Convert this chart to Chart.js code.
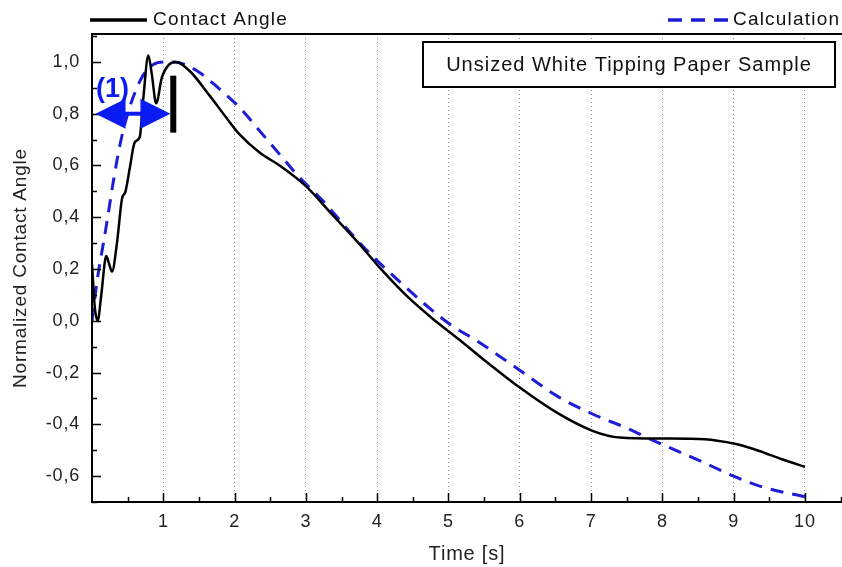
<!DOCTYPE html>
<html>
<head>
<meta charset="utf-8">
<script src="https://cdn.jsdelivr.net/npm/chart.js@4/dist/chart.umd.min.js"></script>
<style>
  html, body { margin: 0; padding: 0; background: #fff; }
  #wrap { width: 842px; height: 567px; }
</style>
</head>
<body>
<div id="wrap"><canvas id="angleChart" width="842" height="567"></canvas></div>
<script>
// measured contact angle (normalized) over time
const contactTime = [0.00, 0.02, 0.04, 0.08, 0.13, 0.20, 0.24, 0.28, 0.35, 0.42, 0.47, 0.53, 0.60, 0.67,
    0.72, 0.79, 0.84, 0.90, 0.98, 1.08, 1.18, 1.37, 1.65, 1.88, 2.07, 2.35, 2.63, 3.00, 3.37, 3.74,
    4.02, 4.40, 4.77, 5.14, 5.54, 6.01, 6.52, 7.02, 7.40, 8.02, 8.40, 8.75, 9.05, 9.35, 9.68, 10.00];
const contactAngle = [0.22, 0.13, 0.05, 0.00, 0.10, 0.25, 0.22, 0.19, 0.30, 0.47, 0.50, 0.59, 0.69, 0.71,
    0.86, 1.025, 0.95, 0.84, 0.94, 0.99, 1.00, 0.965, 0.87, 0.786, 0.72, 0.65, 0.60, 0.52, 0.41, 0.30,
    0.21, 0.10, 0.01, -0.07, -0.16, -0.26, -0.355, -0.425, -0.451, -0.455, -0.456, -0.462, -0.477, -0.502, -0.535, -0.564];

// model curve
const calcTime = [0.00, 0.08, 0.16, 0.22, 0.30, 0.40, 0.50, 0.60, 0.72, 0.86, 1.00, 1.15, 1.47, 1.79,
    2.07, 2.35, 2.63, 2.91, 3.28, 3.60, 3.93, 4.30, 4.67, 5.02, 5.44, 6.01, 6.52, 7.02, 7.55, 7.83,
    8.53, 9.00, 9.43, 10.00];
const calcAngle = [0.00, 0.17, 0.30, 0.40, 0.54, 0.69, 0.80, 0.88, 0.95, 0.99, 1.00, 1.00, 0.966, 0.895,
    0.824, 0.734, 0.644, 0.554, 0.451, 0.348, 0.251, 0.155, 0.064, -0.013, -0.085, -0.193, -0.29, -0.36,
    -0.42, -0.457, -0.541, -0.60, -0.644, -0.68];

const xTicks = [1, 2, 3, 4, 5, 6, 7, 8, 9, 10];
const xMinorTicks = [0.5, 1.5, 2.5, 3.5, 4.5, 5.5, 6.5, 7.5, 8.5, 9.5, 10.5];
const yTicks = [-0.6, -0.4, -0.2, 0.0, 0.2, 0.4, 0.6, 0.8, 1.0];
const yMinorTicks = [-0.7, -0.5, -0.3, -0.1, 0.1, 0.3, 0.5, 0.7, 0.9, 1.1];

// the (1) marker: arrow span and end bar
const arrowSpan = [0.05, 1.1];
const arrowLevel = 0.8;
const barTime = 1.14;
const barRange = [0.727, 0.947];

const FONT = '"Liberation Sans", Arial, Helvetica, sans-serif';
const CALC_BLUE = '#1d1dd6';
const ARROW_BLUE = '#0b1cf2';

function toPoints(xs, ys) {
    return xs.map((x, i) => ({ x: x, y: ys[i] }));
}

const decoration = {
    id: 'decoration',
    beforeDraw(chart) {
        chart.ctx.letterSpacing = '0.8px';
    },
    afterDraw(chart) {
        const ctx = chart.ctx;
        const xs = chart.scales.x;
        const ys = chart.scales.y;
        const area = chart.chartArea;

        ctx.save();
        ctx.strokeStyle = '#000';
        ctx.lineWidth = 2;
        ctx.setLineDash([]);

        // frame: left, top and bottom
        ctx.beginPath();
        ctx.moveTo(area.left, area.top);
        ctx.lineTo(area.left, area.bottom);
        ctx.moveTo(area.left - 1, area.top);
        ctx.lineTo(area.right, area.top);
        ctx.moveTo(area.left - 1, area.bottom);
        ctx.lineTo(area.right, area.bottom);
        ctx.stroke();

        // inward tick marks
        ctx.lineWidth = 1.5;
        ctx.beginPath();
        yTicks.forEach(v => {
            const p = Math.round(ys.getPixelForValue(v)) + 0.5;
            ctx.moveTo(area.left, p); ctx.lineTo(area.left + 9, p);
        });
        yMinorTicks.forEach(v => {
            const p = Math.round(ys.getPixelForValue(v)) + 0.5;
            ctx.moveTo(area.left, p); ctx.lineTo(area.left + 5, p);
        });
        xTicks.forEach(v => {
            const p = Math.round(xs.getPixelForValue(v)) + 0.5;
            ctx.moveTo(p, area.bottom); ctx.lineTo(p, area.bottom - 9);
        });
        xMinorTicks.forEach(v => {
            const p = Math.round(xs.getPixelForValue(v)) + 0.5;
            ctx.moveTo(p, area.bottom); ctx.lineTo(p, area.bottom - 5);
        });
        ctx.stroke();

        // legend above the frame
        ctx.font = '19px ' + FONT;
        ctx.fillStyle = '#111';
        ctx.textBaseline = 'middle';
        ctx.textAlign = 'left';
        ctx.letterSpacing = '1.2px';
        ctx.lineWidth = 3.5;
        ctx.strokeStyle = '#000';
        ctx.beginPath();
        ctx.moveTo(90, 20); ctx.lineTo(147, 20);
        ctx.stroke();
        ctx.fillText('Contact Angle', 153, 20);

        ctx.strokeStyle = CALC_BLUE;
        ctx.setLineDash([14, 9]);
        ctx.beginPath();
        ctx.moveTo(668, 20); ctx.lineTo(730, 20);
        ctx.stroke();
        ctx.setLineDash([]);
        ctx.fillText('Calculation', 733, 20);

        // sample label box
        ctx.strokeStyle = '#000';
        ctx.lineWidth = 2;
        ctx.fillStyle = '#fff';
        ctx.fillRect(423, 42, 412, 45);
        ctx.strokeRect(423, 42, 412, 45);
        ctx.fillStyle = '#111';
        ctx.font = '20px ' + FONT;
        ctx.letterSpacing = '1px';
        ctx.textAlign = 'center';
        ctx.fillText('Unsized White Tipping Paper Sample', 629, 65);

        // double arrow marking range (1)
        const ax0 = xs.getPixelForValue(arrowSpan[0]);
        const ax1 = xs.getPixelForValue(arrowSpan[1]);
        const ay = ys.getPixelForValue(arrowLevel);
        const head = 30, half = 15;
        ctx.fillStyle = ARROW_BLUE;
        ctx.fillRect(ax0 + head - 2, ay - 2, ax1 - ax0 - 2 * head + 4, 4);
        ctx.beginPath();
        ctx.moveTo(ax0, ay);
        ctx.lineTo(ax0 + head, ay - half);
        ctx.lineTo(ax0 + head, ay + half);
        ctx.closePath();
        ctx.moveTo(ax1, ay);
        ctx.lineTo(ax1 - head, ay - half);
        ctx.lineTo(ax1 - head, ay + half);
        ctx.closePath();
        ctx.fill();

        ctx.font = 'bold 27px ' + FONT;
        ctx.letterSpacing = '0px';
        ctx.textAlign = 'left';
        ctx.textBaseline = 'alphabetic';
        ctx.fillText('(1)', 96, 97);

        // end bar
        const bx = xs.getPixelForValue(barTime);
        ctx.fillStyle = '#000';
        ctx.fillRect(bx - 3, ys.getPixelForValue(barRange[1]), 6,
            ys.getPixelForValue(barRange[0]) - ys.getPixelForValue(barRange[1]));
        ctx.restore();
    }
};

const chart = new Chart(document.getElementById('angleChart'), {
    type: 'line',
    data: {
        datasets: [{
            label: 'Contact Angle',
            data: toPoints(contactTime, contactAngle),
            borderColor: '#000',
            borderWidth: 2.5,
            pointRadius: 0,
            cubicInterpolationMode: 'monotone'
        }, {
            label: 'Calculation',
            data: toPoints(calcTime, calcAngle),
            borderColor: CALC_BLUE,
            borderWidth: 3,
            borderDash: [13, 9],
            pointRadius: 0,
            cubicInterpolationMode: 'monotone'
        }]
    },
    options: {
        responsive: false,
        animation: false,
        devicePixelRatio: 1,
        layout: { padding: { top: 34, right: 0, bottom: 0, left: 0 } },
        plugins: {
            legend: { display: false },
            tooltip: { enabled: false }
        },
        scales: {
            x: {
                type: 'linear',
                min: 0,
                max: 10.52,
                afterBuildTicks: s => { s.ticks = xTicks.map(v => ({ value: v })); },
                afterFit: s => { s.height = 65; },
                grid: { color: '#8c8c8c', lineWidth: 1, drawTicks: false },
                border: { display: false, dash: [1, 3] },
                ticks: {
                    font: { family: FONT, size: 18 },
                    color: '#222',
                    padding: 9,
                    maxRotation: 0,
                    callback: v => String(v)
                },
                title: {
                    display: true,
                    text: 'Time [s]',
                    font: { family: FONT, size: 20 },
                    color: '#222',
                    padding: { top: 0, bottom: 1 }
                }
            },
            y: {
                type: 'linear',
                min: -0.7,
                max: 1.108,
                afterBuildTicks: s => { s.ticks = yTicks.map(v => ({ value: v })); },
                afterFit: s => { s.width = 92; },
                grid: { display: false, drawTicks: false },
                border: { display: false },
                ticks: {
                    font: { family: FONT, size: 18 },
                    color: '#222',
                    padding: 12,
                    callback: v => v.toFixed(1).replace('.', ',')
                },
                title: {
                    display: true,
                    text: 'Normalized Contact Angle',
                    font: { family: FONT, size: 19 },
                    color: '#222',
                    padding: { top: 9, bottom: 0 }
                }
            }
        }
    },
    plugins: [decoration]
});
</script>
</body>
</html>
